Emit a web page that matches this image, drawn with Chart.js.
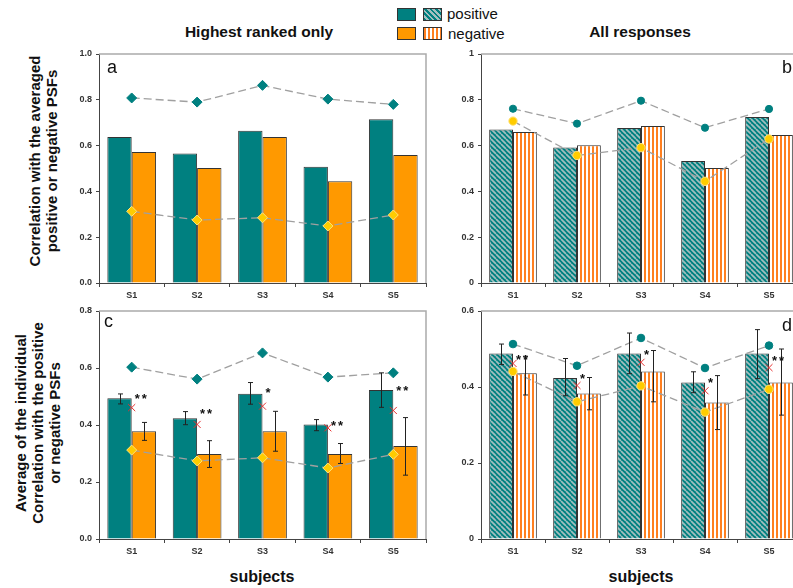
<!DOCTYPE html>
<html lang="en">
<head>
<meta charset="UTF-8">
<title>PSF correlations</title>
<script src="https://cdn.jsdelivr.net/npm/chart.js"></script>
<style>
    body {
        margin: 0;
        width: 793px;
        height: 588px;
        overflow: hidden;
        position: relative;
        background: #fff;
        font-family: "Liberation Sans", Arial, sans-serif;
        color: #111;
    }
    canvas { position: absolute; }
    .txt { position: absolute; white-space: nowrap; transform: translate(-50%, -50%); }
    .head { font-weight: bold; font-size: 15.5px; }
    .sub { font-weight: bold; font-size: 16px; }
    .ytitle { font-weight: bold; font-size: 15px; line-height: 17px; text-align: center;
              transform: translate(-50%, -50%) rotate(-90deg); }
    .letter { position: absolute; font-size: 18px; }
    .sw { position: absolute; width: 19px; height: 13px; border: 1px solid #333; box-sizing: border-box; }
    .lg { position: absolute; font-size: 15px; }
</style>
</head>
<body>
    <div class="txt head" style="left:259px; top:32px;">Highest ranked only</div>
    <div class="txt head" style="left:640px; top:32px;">All responses</div>
    <div class="txt sub" style="left:262px; top:577px;">subjects</div>
    <div class="txt sub" style="left:641px; top:577px;">subjects</div>
    <div class="txt ytitle" style="left:43px; top:161px;">Correlation with the averaged<br>positive or negative PSFs</div>
    <div class="txt ytitle" style="left:37px; top:423px;">Average of the individual<br>Correlation with the positive<br>or negative PSFs</div>

    <!-- legend -->
    <div class="sw" style="left:397px; top:8px; background:#008080;"></div>
    <div class="sw" style="left:423px; top:8px; background:repeating-linear-gradient(45deg,#008080 0 2px,#a3bfbf 2px 3.8px);"></div>
    <div class="sw" style="left:397px; top:27px; background:#ff9900;"></div>
    <div class="sw" style="left:423px; top:27px; background:repeating-linear-gradient(90deg,#ff8020 0 2px,#fff 2px 4px);"></div>
    <div class="lg" style="left:447px; top:5px;">positive</div>
    <div class="lg" style="left:448px; top:25px;">negative</div>

<script>
// ---- data ----
const subjects = ['S1', 'S2', 'S3', 'S4', 'S5'];

// a: highest ranked only, correlation with averaged PSFs
const aPos = [0.638, 0.566, 0.665, 0.508, 0.715];
const aNeg = [0.572, 0.502, 0.638, 0.444, 0.559];
const aPosLine = [0.808, 0.790, 0.863, 0.803, 0.780];
const aNegLine = [0.313, 0.275, 0.285, 0.249, 0.297];

// b: all responses, correlation with averaged PSFs
const bPos = [0.670, 0.592, 0.677, 0.533, 0.725];
const bNeg = [0.659, 0.601, 0.686, 0.502, 0.646];
const bPosLine = [0.761, 0.696, 0.796, 0.678, 0.760];
const bNegLine = [0.707, 0.557, 0.591, 0.444, 0.629];

// c: highest ranked only, average of individual correlations
const cPos = [0.494, 0.424, 0.510, 0.402, 0.523];
const cNeg = [0.378, 0.298, 0.378, 0.298, 0.326];
const cPosLo = [0.474, 0.401, 0.473, 0.380, 0.462];
const cPosHi = [0.509, 0.447, 0.549, 0.419, 0.583];
const cNegLo = [0.346, 0.251, 0.308, 0.265, 0.224];
const cNegHi = [0.409, 0.345, 0.448, 0.335, 0.426];
const cPosLine = [0.603, 0.561, 0.653, 0.568, 0.583];
const cNegLine = [0.312, 0.274, 0.285, 0.249, 0.297];
const cCross = [0.461, 0.402, 0.466, 0.390, 0.451];
const cStars = [2, 2, 1, 2, 2];
const cStarY = [0.505, 0.450, 0.523, 0.410, 0.533];

// d: all responses, average of individual correlations
const dPos = [0.488, 0.424, 0.488, 0.412, 0.488];
const dNeg = [0.436, 0.383, 0.441, 0.359, 0.412];
const dPosLo = [0.459, 0.377, 0.435, 0.385, 0.422];
const dPosHi = [0.513, 0.475, 0.542, 0.440, 0.551];
const dNegLo = [0.379, 0.340, 0.361, 0.288, 0.326];
const dNegHi = [0.481, 0.425, 0.496, 0.430, 0.500];
const dPosLine = [0.513, 0.456, 0.529, 0.450, 0.509];
const dNegLine = [0.441, 0.361, 0.403, 0.334, 0.394];
const dCross = [0.462, 0.404, 0.465, 0.390, 0.451];
const dStars = [2, 1, 1, 1, 2];
const dStarY = [0.480, 0.430, 0.494, 0.421, 0.478];

const TEAL = '#008080';
const ORANGE = '#ff9900';
const YELLOW = '#ffcc00';
const FONT = '"Liberation Sans", Arial, sans-serif';

// hatch patterns
function diagPattern() {
    const c = document.createElement('canvas');
    c.width = c.height = 5;
    const x = c.getContext('2d');
    x.fillStyle = TEAL;
    x.fillRect(0, 0, 5, 5);
    x.strokeStyle = '#a3bfbf';
    x.lineWidth = 1.7;
    for (let k = -1; k <= 1; k++) {
        x.beginPath();
        x.moveTo(k * 5, 0);
        x.lineTo(k * 5 + 5, 5);
        x.stroke();
    }
    return x.createPattern(c, 'repeat');
}
function vertPattern() {
    const c = document.createElement('canvas');
    c.width = 4; c.height = 4;
    const x = c.getContext('2d');
    x.fillStyle = '#fff';
    x.fillRect(0, 0, 4, 4);
    x.fillStyle = '#ff8020';
    x.fillRect(0, 0, 2, 4);
    return x.createPattern(c, 'repeat');
}

// frame, error bars and significance stars
function extras(err, stars, starY) {
    return {
        id: 'extras',
        afterDatasetsDraw(chart) {
            const ctx = chart.ctx, y = chart.scales.y, xs = chart.scales.x;
            if (err) {
                ctx.save();
                ctx.strokeStyle = '#222';
                ctx.lineWidth = 1;
                err.forEach((e, di) => {
                    const meta = chart.getDatasetMeta(di);
                    e.lo.forEach((lo, i) => {
                        const bx = Math.round(meta.data[i].x) + 0.5;
                        const y1 = y.getPixelForValue(lo), y2 = y.getPixelForValue(e.hi[i]);
                        ctx.beginPath();
                        ctx.moveTo(bx, y1); ctx.lineTo(bx, y2);
                        ctx.moveTo(bx - 2.5, y1); ctx.lineTo(bx + 2.5, y1);
                        ctx.moveTo(bx - 2.5, y2); ctx.lineTo(bx + 2.5, y2);
                        ctx.stroke();
                    });
                });
                ctx.restore();
            }
            if (stars) {
                ctx.save();
                ctx.fillStyle = '#111';
                ctx.font = 'bold 13px ' + FONT;
                ctx.textBaseline = 'alphabetic';
                stars.forEach((n, i) => {
                    const sx = xs.getPixelForValue(i) + 3;
                    const sy = y.getPixelForValue(starY[i]) + 7.5;
                    for (let k = 0; k < n; k++) ctx.fillText('*', sx + k * 7, sy);
                });
                ctx.restore();
            }
        },
        afterDraw(chart) {
            const a = chart.chartArea, ctx = chart.ctx;
            ctx.save();
            ctx.strokeStyle = '#aaa';
            ctx.lineWidth = 1.5;
            ctx.beginPath();
            ctx.moveTo(a.left, a.top);
            ctx.lineTo(a.right, a.top);
            ctx.lineTo(a.right, a.bottom);
            ctx.stroke();
            ctx.restore();
        }
    };
}

function lineSet(data, color, style, r, border) {
    return {
        type: 'line', data: data, order: 1,
        borderColor: '#a0a0a0', borderWidth: 1.3, borderDash: [8, 4],
        tension: 0, fill: false,
        pointStyle: style, pointRadius: r,
        pointBackgroundColor: color, pointBorderColor: border, pointBorderWidth: 1
    };
}

function makePanel(rect, ymax, fmt, datasets, plugin) {
    const padL = 45, padT = 10, padR = 5, padB = 26;
    const cv = document.createElement('canvas');
    cv.width = rect.r - rect.l + padL + padR;
    cv.height = rect.b - rect.t + padT + padB;
    cv.style.left = (rect.l - padL) + 'px';
    cv.style.top = (rect.t - padT) + 'px';
    document.body.appendChild(cv);
    const tickFont = { family: FONT, size: 9, weight: 'bold' };
    new Chart(cv, {
        type: 'bar',
        data: { labels: subjects, datasets: datasets },
        options: {
            responsive: false, animation: false, devicePixelRatio: 1,
            layout: { padding: { top: padT, right: padR, left: 0, bottom: 0 }, autoPadding: false },
            plugins: { legend: { display: false }, tooltip: { enabled: false } },
            datasets: { bar: { categoryPercentage: 0.745, barPercentage: 1 } },
            scales: {
                x: {
                    offset: true,
                    grid: { offset: true, drawOnChartArea: false, tickLength: 4, color: '#444' },
                    border: { color: '#444' },
                    ticks: { font: tickFont, color: '#333', padding: 3 },
                    afterFit: s => { s.height = padB; }
                },
                y: {
                    min: 0, max: ymax,
                    grid: { drawOnChartArea: false, tickLength: 3, color: '#444' },
                    border: { color: '#444' },
                    ticks: { stepSize: 0.2, font: tickFont, color: '#333', padding: 4,
                             callback: v => fmt(v) },
                    afterFit: s => { s.width = padL; }
                }
            }
        },
        plugins: [plugin]
    });
}

const solidBars = (pos, neg) => [
    { data: pos, backgroundColor: TEAL, borderColor: '#333', borderWidth: 1, order: 2 },
    { data: neg, backgroundColor: ORANGE, borderColor: '#333', borderWidth: 1, order: 2 }
];
const hatchBars = (pos, neg) => [
    { data: pos, backgroundColor: diagPattern(), borderColor: '#333', borderWidth: 1, order: 2 },
    { data: neg, backgroundColor: vertPattern(), borderColor: '#333', borderWidth: 1, order: 2 }
];
const fixed1 = v => v.toFixed(1);
const plain = v => String(Math.round(v * 10) / 10);
const crossSet = d => ({
    type: 'line', data: d, order: 0, showLine: false,
    pointStyle: 'crossRot', pointRadius: 5, pointBorderColor: '#e53030', pointBorderWidth: 1
});

// panel a
makePanel({ l: 99, t: 54, r: 426, b: 283 }, 1, fixed1, [
    ...solidBars(aPos, aNeg),
    lineSet(aPosLine, TEAL, 'rectRot', 5, TEAL),
    lineSet(aNegLine, YELLOW, 'rectRot', 5, '#ffe27a')
], extras(null));

// panel b
makePanel({ l: 481, t: 54, r: 801, b: 283 }, 1, plain, [
    ...hatchBars(bPos, bNeg),
    lineSet(bPosLine, TEAL, 'circle', 3.6, TEAL),
    lineSet(bNegLine, YELLOW, 'circle', 4.2, '#ffe27a')
], extras(null));

// panel c
makePanel({ l: 99, t: 311, r: 426, b: 539 }, 0.8, fixed1, [
    ...solidBars(cPos, cNeg),
    lineSet(cPosLine, TEAL, 'rectRot', 5, TEAL),
    lineSet(cNegLine, YELLOW, 'rectRot', 5, '#ffe27a'),
    crossSet(cCross)
], extras([{ lo: cPosLo, hi: cPosHi }, { lo: cNegLo, hi: cNegHi }], cStars, cStarY));

// panel d
makePanel({ l: 481, t: 311, r: 801, b: 539 }, 0.6, plain, [
    ...hatchBars(dPos, dNeg),
    lineSet(dPosLine, TEAL, 'circle', 3.8, TEAL),
    lineSet(dNegLine, YELLOW, 'circle', 4.2, '#ffe27a'),
    crossSet(dCross)
], extras([{ lo: dPosLo, hi: dPosHi }, { lo: dNegLo, hi: dNegHi }], dStars, dStarY));
</script>

<div class="letter" style="left:107px; top:57px;">a</div>
<div class="letter" style="left:782px; top:57px;">b</div>
<div class="letter" style="left:104px; top:311px;">c</div>
<div class="letter" style="left:782px; top:315px;">d</div>
</body>
</html>
